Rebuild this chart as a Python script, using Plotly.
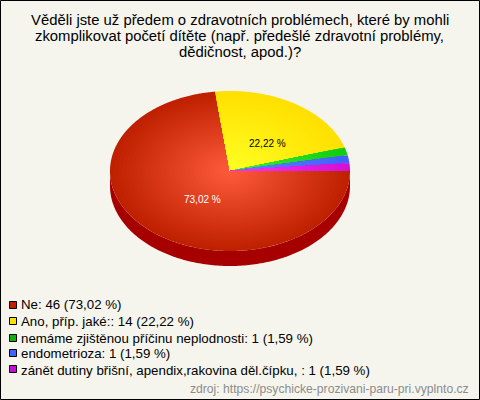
import numpy as np
import plotly.graph_objects as go

title_lines = ["Věděli jste už předem o zdravotních problémech, které by mohli",
               "zkomplikovat početí dítěte (např. předešlé zdravotní problémy,",
               "dědičnost, apod.)?"]
categories = ["Ne", "Ano, příp. jaké:", "nemáme zjištěnou příčinu neplodnosti",
              "endometrioza", "zánět dutiny břišní, apendix,rakovina děl.čípku, "]
counts = [46, 14, 1, 1, 1]
pct_labels = ["73,02 %", "22,22 %", "1,59 %", "1,59 %", "1,59 %"]
edge_colors = [(190, 32, 0), (255, 224, 0), (16, 205, 16), (64, 96, 255), (210, 16, 210)]
centre_colors = [(255, 92, 60), (255, 255, 36), (60, 240, 60), (100, 130, 255), (255, 50, 255)]
legend_colors = ["#c02000", "#ffe000", "#10b010", "#4060ff", "#c010d0"]
source = "zdroj: https://psychicke-prozivani-paru-pri.vyplnto.cz"

BG = "#f5f5ee"
CX, CY, RX, RY, DEPTH = 230, 171, 120, 80, 15
RINGS = 30
FONT = "Liberation Sans"
LABEL_OFFSETS = {0: (-28, 28), 1: (37.7, -28)}

total = sum(counts)
sweeps = [c / total * 360 for c in counts]
ends = {}
cur = 0.0
for i in range(len(counts) - 1, -1, -1):
    ends[i] = (cur, cur + sweeps[i])
    cur += sweeps[i]

fig = go.Figure()

# extruded side
t = np.radians(np.linspace(180, 360, 181))
xs = CX + RX * np.cos(t)
ys = CY - RY * np.sin(t)
fig.add_trace(go.Scatter(x=np.r_[xs, xs[::-1]], y=np.r_[ys, ys[::-1] + DEPTH], fill="toself",
                         mode="none", fillcolor="#a60000", hoverinfo="skip", showlegend=False))

# slices with radial shading: largest wedge first, smaller lighter wedges on top
for i in range(len(counts)):
    a0, a1 = ends[i]
    t = np.radians(np.linspace(a0, a1, max(int(a1 - a0) * 2, 8)))
    for k in range(RINGS):
        f = 1 - k / RINGS
        col = tuple(int(round(e + (c - e) * (1 - f))) for e, c in zip(edge_colors[i], centre_colors[i]))
        px = np.r_[CX, CX + f * RX * np.cos(t), CX]
        py = np.r_[CY, CY - f * RY * np.sin(t), CY]
        fig.add_trace(go.Scatter(x=px, y=py, fill="toself", mode="none",
                                 fillcolor=f"rgb{col}", hoverinfo="skip", showlegend=False))

anns = []
def text(x, y, s, size, color="#000000", anchor="left"):
    anns.append(dict(x=x, y=y, text=s, showarrow=False, xanchor=anchor, yanchor="middle",
                     font=dict(family=FONT, size=size, color=color), xref="x", yref="y"))

for j, line in enumerate(title_lines):
    text(239.5, 20 + j * 16, line, 14.85, anchor="center")

for i, (dx, dy) in LABEL_OFFSETS.items():
    text(CX + dx, CY + dy, pct_labels[i], 10, "#ffffff" if i == 0 else "#000000", "center")

legend_y = [304.5, 321, 338, 353.5, 370]
marker_y = [305, 321, 338, 353, 369]
fig.add_trace(go.Scatter(x=[13] * 5, y=marker_y, mode="markers", hoverinfo="skip", showlegend=False,
                         marker=dict(symbol="square", size=7, color=legend_colors,
                                     line=dict(color="#000000", width=1))))
for i in range(5):
    text(19, legend_y[i], f"{categories[i]}: {counts[i]} ({pct_labels[i]})", 13.3)
text(471, 389, source, 12.15, "#8c8c8c", "right")

fig.update_layout(
    width=480, height=400, margin=dict(l=0, r=0, t=0, b=0), autosize=False,
    paper_bgcolor=BG, plot_bgcolor=BG, showlegend=False, annotations=anns,
    xaxis=dict(range=[0, 480], visible=False, fixedrange=True),
    yaxis=dict(range=[400, 0], visible=False, fixedrange=True),
    shapes=[dict(type="rect", xref="x", yref="y", x0=0.5, y0=0.5, x1=479.5, y1=399.5,
                 line=dict(color="#000000", width=1))],
)
fig.write_html("out.html", config=dict(displayModeBar=False),
               post_script="document.body.style.margin='0';document.body.style.overflow='hidden';")
